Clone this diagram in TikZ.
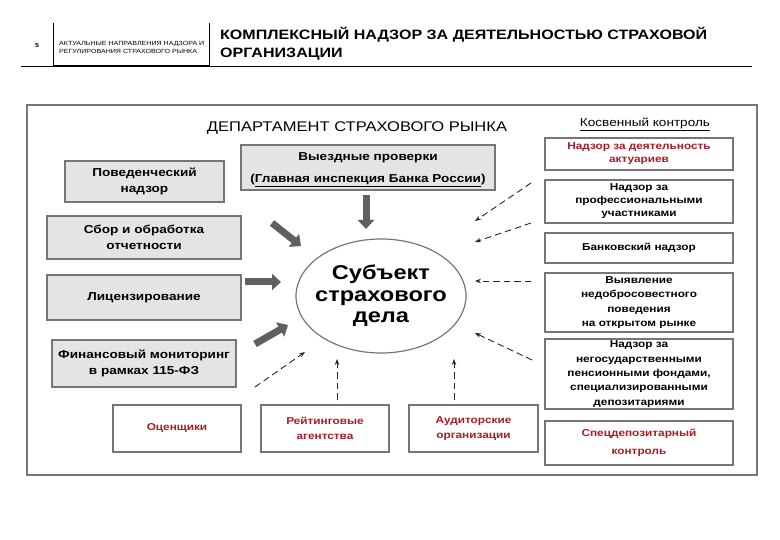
\documentclass[tikz,border=0pt]{standalone}
\usepackage{fontspec}
\setmainfont{Liberation Sans}[FakeStretch=1.18]
\usetikzlibrary{shapes.geometric,arrows.meta}
\definecolor{boxgray}{RGB}{228,228,228}
\definecolor{edgegray}{RGB}{118,118,118}
\definecolor{darkred}{RGB}{172,26,36}
\definecolor{arrowgray}{RGB}{96,96,96}
\newcommand{\drawblock}{\draw[blockarrow]}
\newcommand{\drawdashed}{\draw[hintarrow]}
\tikzset{
  dept/.style={draw=edgegray, line width=1.4pt, fill=boxgray, align=center, inner sep=1pt,
    font=\bfseries\fontsize{11.5}{15.5}\selectfont},
  hintbox/.style={draw=edgegray, line width=1.2pt, fill=white, align=center, inner sep=1pt,
    font=\bfseries\fontsize{10}{13.5}\selectfont, minimum width=188pt},
  redtext/.style={text=darkred},
  blockarrow/.style={draw=arrowgray, line width=7pt, -{Triangle[width=16pt,length=9pt]}},
  hintarrow/.style={draw=black!85, line width=0.9pt, dash pattern=on 6.5pt off 4pt, -{Stealth[length=6pt,width=4.5pt]}}
}
\begin{document}
\begin{tikzpicture}[x=1pt,y=-1pt]
\useasboundingbox (0,0) rectangle (780,540);
% header
\node[font=\bfseries\fontsize{6}{7}\selectfont] (pgnum) at (37,45) {5};
\node[anchor=west, align=left, inner sep=0pt, font=\fontsize{6}{8}\selectfont] (section) at (59,47) {АКТУАЛЬНЫЕ НАПРАВЛЕНИЯ НАДЗОРА И\\ РЕГУЛИРОВАНИЯ СТРАХОВОГО РЫНКА};
\node[anchor=west, align=left, inner sep=0pt, font=\bfseries\fontsize{13.6}{18}\selectfont] (title) at (220,44) {КОМПЛЕКСНЫЙ НАДЗОР ЗА ДЕЯТЕЛЬНОСТЬЮ СТРАХОВОЙ\\ ОРГАНИЗАЦИИ};
\draw[line width=0.8pt] (53,23)--(53,66);
\draw[line width=0.8pt] (209,23)--(209,66);
\draw[line width=0.8pt] (21,66)--(752,66);
\draw[line width=2pt] (53,66)--(209,66);
% frame
\draw[draw=edgegray, line width=1.5pt] (27,105) rectangle (757,475);
\node[font=\fontsize{14}{16}\selectfont] (dephead) at (357,128) {ДЕПАРТАМЕНТ СТРАХОВОГО РЫНКА};
\node[font=\fontsize{11.5}{13}\selectfont] (indhead) at (645,124) {\underline{Косвенный контроль}};
% department
\node[dept, minimum width=159pt, minimum height=41pt] (behav) at (144.5,181.5) {Поведенческий\\ надзор};
\node[dept, minimum width=194pt, minimum height=43pt] (report) at (144,237.5) {Сбор и обработка\\ отчетности};
\node[dept, minimum width=194pt, minimum height=45pt] (licence) at (144,297.5) {Лицензирование};
\node[dept, minimum width=184pt, minimum height=47pt] (finmon) at (144,363.5) {Финансовый мониторинг\\ в рамках 115-ФЗ};
\node[dept, minimum width=254pt, minimum height=45pt, font=\bfseries\fontsize{11.5}{22}\selectfont] (inspect) at (368,167.5) {};
\node[align=center, font=\bfseries\fontsize{11.5}{22}\selectfont] (inspecttext) at (368,170) {Выездные проверки\\ (\underline{Главная инспекция Банка России})};
\node[ellipse, draw=edgegray, line width=1.2pt, minimum width=170pt, minimum height=114pt, align=center,
  inner xsep=-22pt, inner ysep=-12pt, font=\bfseries\fontsize{20}{21.5}\selectfont] (subject) at (381,296) {Субъект\\ страхового\\ дела};
% indirect control
\node[hintbox, redtext, minimum height=32pt, font=\bfseries\fontsize{10}{13}\selectfont] (actuary) at (639,154) {Надзор за деятельность\\ актуариев};
\node[hintbox, minimum height=43pt, font=\bfseries\fontsize{10}{13}\selectfont] (profpart) at (639,201.5) {Надзор за\\ профессиональными\\ участниками};
\node[hintbox, minimum height=30pt] (banking) at (639,248) {Банковский надзор};
\node[hintbox, minimum height=59pt, font=\bfseries\fontsize{10}{14.5}\selectfont] (unfair) at (639,302.5) {Выявление\\ недобросовестного\\ поведения\\ на открытом рынке};
\node[hintbox, minimum height=70pt, font=\bfseries\fontsize{10}{14.3}\selectfont] (pension) at (639,374) {Надзор за\\ негосударственными\\ пенсионными фондами,\\ специализированными\\ депозитариями};
\node[hintbox, redtext, minimum height=44pt, font=\bfseries\fontsize{10}{18}\selectfont] (specdep) at (639,443) {Спецдепозитарный\\ контроль};
\node[hintbox, redtext, minimum width=128pt, minimum height=47pt] (valuer) at (177,428.5) {Оценщики};
\node[hintbox, redtext, minimum width=128pt, minimum height=47pt, font=\bfseries\fontsize{10}{15}\selectfont] (rating) at (325,428.5) {Рейтинговые\\ агентства};
\node[hintbox, redtext, minimum width=129pt, minimum height=47pt, font=\bfseries\fontsize{10}{15}\selectfont] (audit) at (473.5,428.5) {Аудиторские\\ организации};
% block arrows
\coordinate (inspS) at (366,195); \coordinate (inspE) at (366,229);
\coordinate (reportS) at (272,223); \coordinate (reportE) at (301,246);
\coordinate (licenceS) at (245,282); \coordinate (licenceE) at (281,282);
\coordinate (finmonS) at (255,344); \coordinate (finmonE) at (288,325);
\drawblock (inspS)--(inspE);
\drawblock (reportS)--(reportE);
\drawblock (licenceS)--(licenceE);
\drawblock (finmonS)--(finmonE);
% dashed arrows
\coordinate (profS) at (531,183); \coordinate (profE) at (475,221);
\coordinate (bankS) at (531,223); \coordinate (bankE) at (475,242);
\coordinate (unfairS) at (531,281); \coordinate (unfairE) at (475,281);
\coordinate (pensS) at (532,360); \coordinate (pensE) at (475,333);
\coordinate (valS) at (255,387); \coordinate (valE) at (305,352);
\coordinate (ratS) at (337,400); \coordinate (ratE) at (337,359);
\coordinate (audS) at (454,400); \coordinate (audE) at (454,359);
\drawdashed (profS)--(profE);
\drawdashed (bankS)--(bankE);
\drawdashed (unfairS)--(unfairE);
\drawdashed (pensS)--(pensE);
\drawdashed (valS)--(valE);
\drawdashed (ratS)--(ratE);
\drawdashed (audS)--(audE);
\end{tikzpicture}
\end{document}
